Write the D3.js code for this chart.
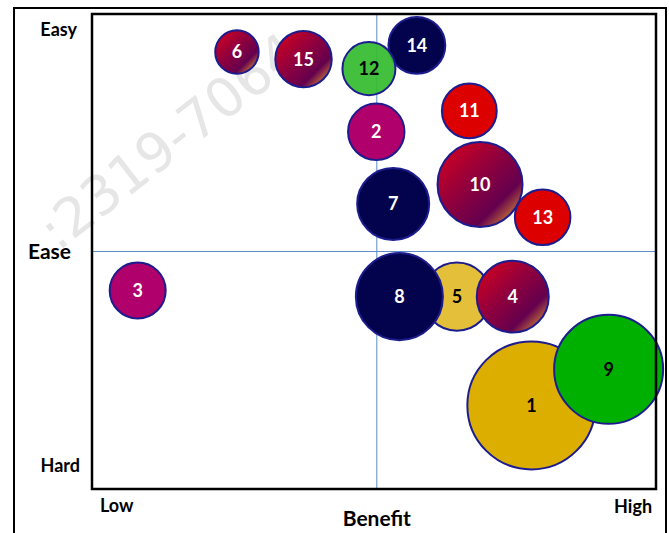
<!DOCTYPE html>
<html>
<head>
<meta charset="utf-8">
<script src="https://cdn.jsdelivr.net/npm/d3@7"></script>
<style>
  body { margin: 0; background: #fff; }
  svg { display: block; font-family: Lato, "Open Sans", sans-serif; }
</style>
</head>
<body>
<div id="chart"></div>
<script>
// bubbles, listed in drawing order (later ones sit on top)
const ids = [1, 9, 5, 8, 4, 3, 14, 12, 6, 15, 11, 2, 7, 10, 13];
const benefit = [77.9, 91.6, 64.7, 54.5, 74.6, 8.1, 57.6, 49.1, 25.7, 37.5, 66.9, 50.4, 53.4, 68.8, 79.9];
const ease = [17.6, 25.2, 40.5, 40.5, 40.5, 41.8, 93.4, 88.5, 92.0, 90.5, 79.6, 75.2, 60.0, 64.1, 57.2];
const size = [100, 72.9, 29, 46.9, 32.4, 19.9, 20.5, 17.9, 12.2, 20.2, 19.1, 20.2, 32.4, 44.8, 19.6];
const group = ['gold', 'green', 'lightGold', 'navy', 'crimson', 'magenta', 'navy', 'lime',
  'crimson', 'crimson', 'red', 'magenta', 'navy', 'crimson', 'red'];

const benefitLabels = ['Low', 'High'];
const easeLabels = ['Easy', 'Hard'];
const benefitMid = 50.5;
const easeMid = 50;

const fills = {
  gold: '#dcae00',
  lightGold: '#e4c03a',
  green: '#00b000',
  lime: '#36bb30',
  navy: '#03034d',
  magenta: '#b0006b',
  red: '#dd0000',
  crimson: 'url(#crimsonGrad)'
};
const darkText = ['gold', 'lightGold', 'green', 'lime'];

const width = 669;
const height = 533;
const plot = { left: 92, right: 656, top: 14, bottom: 489 };

const svg = d3.select('#chart')
  .append('svg')
  .attr('width', width)
  .attr('height', height);

const grad = svg.append('defs')
  .append('linearGradient')
  .attr('id', 'crimsonGrad')
  .attr('x1', 0).attr('y1', 0)
  .attr('x2', 1).attr('y2', 1);
[[0, '#dc001c'], [0.45, '#8e003e'], [0.72, '#64004e'], [0.86, '#b8623a']]
  .forEach(s => grad.append('stop').attr('offset', s[0]).attr('stop-color', s[1]));

// faint journal watermark behind everything
svg.append('text')
  .attr('transform', 'translate(58,252) rotate(-38)')
  .attr('fill', '#e6e6e6')
  .style('font-family', '"DejaVu Sans", sans-serif')
  .style('font-size', '54px')
  .text(':2319-7064');

// outer frame
svg.append('rect')
  .attr('x', 14).attr('y', 8)
  .attr('width', 652).attr('height', 540)
  .attr('fill', 'none')
  .attr('stroke', '#000')
  .attr('stroke-width', 2);

const x = d3.scaleLinear().domain([0, 100]).range([plot.left, plot.right]);
const y = d3.scaleLinear().domain([0, 100]).range([plot.bottom, plot.top]);
const r = d3.scaleSqrt().domain([0, 100]).range([0, 65]);

// quadrant lines
svg.append('line')
  .attr('x1', x(benefitMid)).attr('x2', x(benefitMid))
  .attr('y1', plot.top).attr('y2', plot.bottom)
  .attr('stroke', '#5b8bc9').attr('stroke-width', 1);
svg.append('line')
  .attr('x1', plot.left).attr('x2', plot.right)
  .attr('y1', y(easeMid)).attr('y2', y(easeMid))
  .attr('stroke', '#5b8bc9').attr('stroke-width', 1);

const data = ids.map((id, i) => ({
  id,
  benefit: benefit[i],
  ease: ease[i],
  size: size[i],
  group: group[i]
}));

const bubble = svg.selectAll('.bubble')
  .data(data, d => d.id)
  .enter()
  .append('g')
  .attr('class', 'bubble')
  .attr('transform', d => `translate(${x(d.benefit)},${y(d.ease)})`);

bubble.append('circle')
  .attr('r', d => r(d.size) - 1)
  .attr('fill', d => fills[d.group])
  .attr('fill-opacity', d => d.group === 'lime' ? 0.93 : 1)
  .attr('stroke', '#1c1c8e')
  .attr('stroke-width', 2);

bubble.append('text')
  .attr('text-anchor', 'middle')
  .attr('dy', '0.36em')
  .attr('fill', d => darkText.includes(d.group) ? '#000' : '#fff')
  .style('font-size', '18px')
  .style('font-weight', 'bold')
  .text(d => d.id);

// plot border on top
svg.append('rect')
  .attr('x', plot.left).attr('y', plot.top)
  .attr('width', plot.right - plot.left)
  .attr('height', plot.bottom - plot.top)
  .attr('fill', 'none')
  .attr('stroke', '#000')
  .attr('stroke-width', 2.5);

// axis end labels
svg.append('text')
  .attr('x', 77).attr('y', y(95.4))
  .attr('text-anchor', 'end')
  .style('font-size', '18px').style('font-weight', 'bold')
  .text(easeLabels[0]);
svg.append('text')
  .attr('x', 80).attr('y', y(3.6))
  .attr('text-anchor', 'end')
  .style('font-size', '18px').style('font-weight', 'bold')
  .text(easeLabels[1]);
svg.append('text')
  .attr('x', 71).attr('y', y(easeMid) + 7)
  .attr('text-anchor', 'end')
  .style('font-size', '21px').style('font-weight', 'bold')
  .text('Ease');

svg.append('text')
  .attr('x', x(1.4)).attr('y', 512)
  .style('font-size', '18px').style('font-weight', 'bold')
  .text(benefitLabels[0]);
svg.append('text')
  .attr('x', x(99.3)).attr('y', 513)
  .attr('text-anchor', 'end')
  .style('font-size', '18px').style('font-weight', 'bold')
  .text(benefitLabels[1]);
svg.append('text')
  .attr('x', x(benefitMid)).attr('y', 526)
  .attr('text-anchor', 'middle')
  .style('font-size', '21px').style('font-weight', 'bold')
  .text('Benefit');
</script>
</body>
</html>
